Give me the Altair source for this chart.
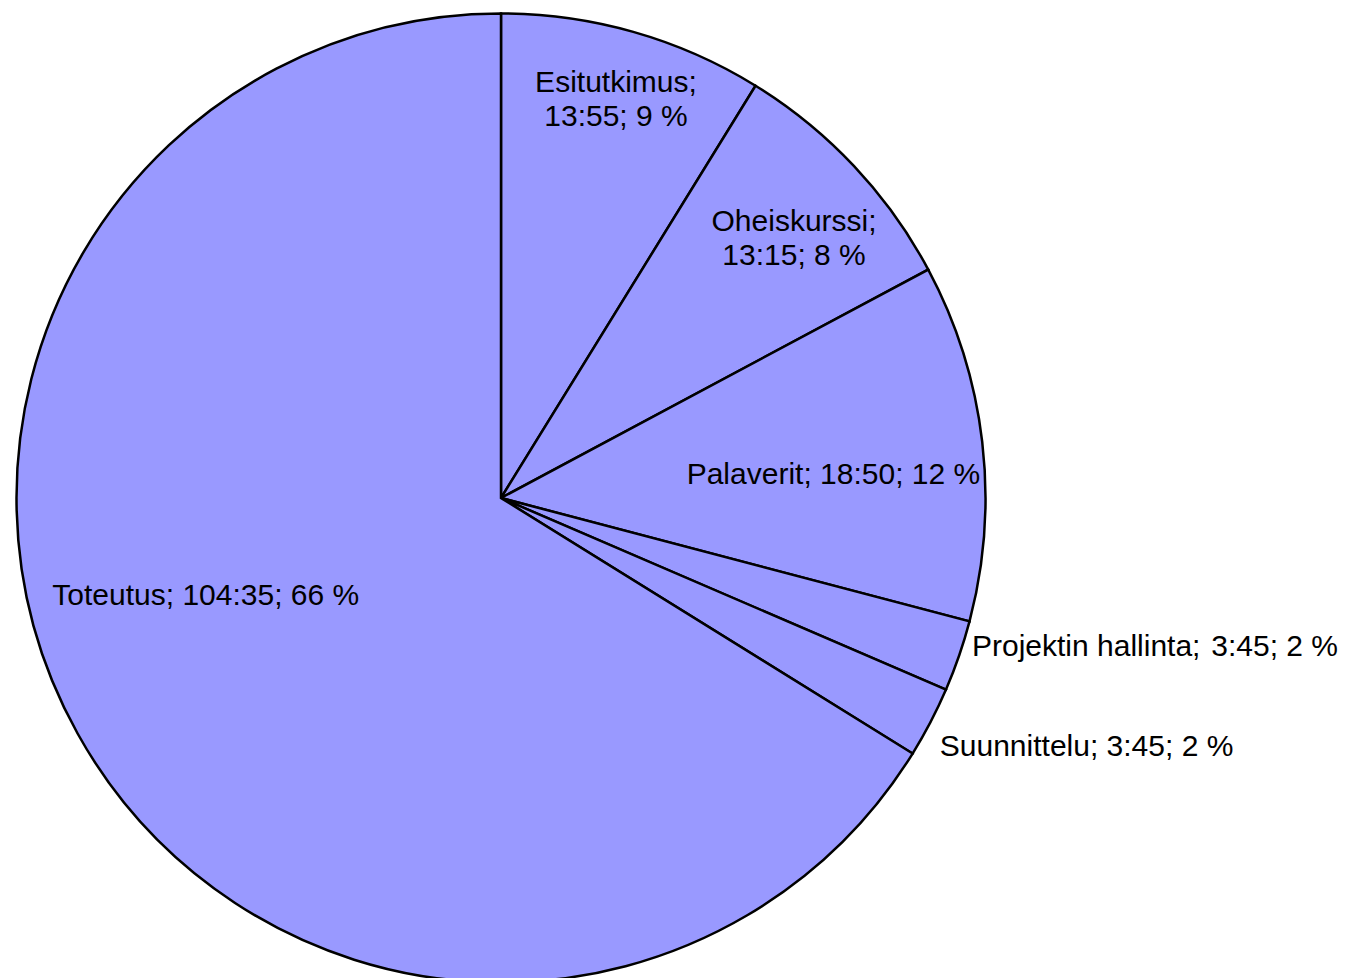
import math
import altair as alt
import pandas as pd

# Data
categories = ["Esitutkimus", "Oheiskurssi", "Palaverit", "Projektin hallinta", "Suunnittelu", "Toteutus"]
minutes = [835, 795, 1130, 225, 225, 6275]
time_labels = ["13:55", "13:15", "18:50", "3:45", "3:45", "104:35"]
pct_labels = ["9 %", "8 %", "12 %", "2 %", "2 %", "66 %"]

# Label styling (placement only)
label_sep = [";\n", ";\n", "; ", ";\u200a ", "; ", "; "]
label_radius = [411, 389, 333, 495, 506, 312]
label_angle_offset = [0.4, 2.1, 3.3, -1.1, 2.3, 10.2]
label_group = ["multi", "multi", "single", "left", "left", "single"]

total = sum(minutes)
rows = []
cum = 0
for i, c in enumerate(categories):
    mid = cum + minutes[i] / 2
    cum += minutes[i]
    rows.append({
        "order": i,
        "category": c,
        "minutes": minutes[i],
        "label": f"{c}{label_sep[i]}{time_labels[i]}; {pct_labels[i]}",
        "angle": mid / total * 360 + label_angle_offset[i],
        "r": label_radius[i],
        "group": label_group[i],
    })
df = pd.DataFrame(rows)

FONT = "Liberation Sans"
FS = 30
LH = 34
TEXT_DY = -3

pie = alt.Chart(df).mark_arc(
    radius=484.5, fill="#9999FF", stroke="#000000", strokeWidth=2.5
).encode(
    theta=alt.Theta("minutes:Q", stack=True),
    order=alt.Order("order:Q"),
)

def text_layer(group, align, dy):
    return alt.Chart(df).transform_filter(
        alt.datum.group == group
    ).mark_text(
        font=FONT, fontSize=FS, color="#000000", align=align,
        baseline="middle", lineBreak="\n", lineHeight=LH, dy=dy
    ).encode(
        theta=alt.Theta("angle:Q", scale=alt.Scale(domain=[0, 360], range=[0, 2 * math.pi])),
        radius=alt.Radius("r:Q", scale=None),
        text="label:N",
    )

chart = alt.layer(
    pie,
    text_layer("multi", "center", -LH / 2 + TEXT_DY),
    text_layer("single", "center", TEXT_DY),
    text_layer("left", "left", TEXT_DY),
).resolve_scale(
    theta="independent"
).properties(
    width=986, height=970, padding=0, background="white"
).configure_view(stroke=None)

chart.save("out.html", embed_options={"renderer": "svg", "actions": False})
